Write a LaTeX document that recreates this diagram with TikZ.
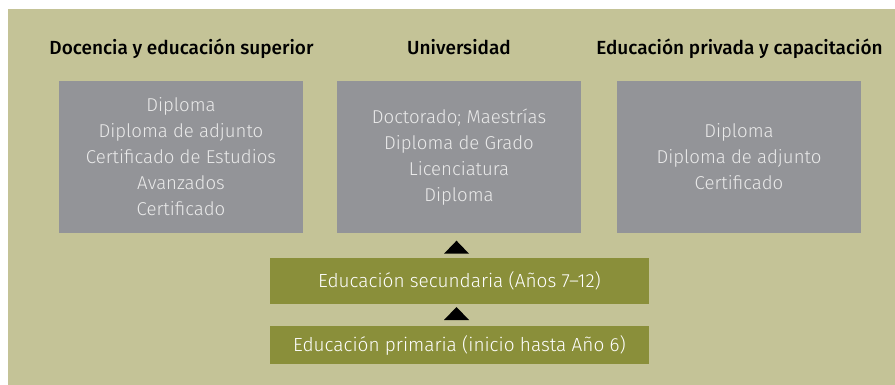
\documentclass[tikz,border=0pt]{standalone}
\usepackage{fontspec}
\setmainfont{Fira Sans}[UprightFont=* Light, BoldFont=* Medium]
\usetikzlibrary{calc}
\definecolor{khaki}{HTML}{C4C397}
\definecolor{boxgray}{HTML}{939498}
\definecolor{olive}{HTML}{8A8F3A}
\definecolor{lighttext}{HTML}{EAEAEA}
\begin{document}
\begin{tikzpicture}[x=1pt,y=-1pt,
 title/.style={font=\bfseries\fontsize{19}{22}\selectfont, text=black, anchor=base, inner sep=0},
 grade/.style={fill=boxgray, minimum width=244, minimum height=152, text=lighttext, align=center, inner sep=0, font=\fontsize{18.6}{26}\selectfont},
 level/.style={fill=olive, minimum width=379, text=white, inner sep=0, text height=13.4, text depth=0, font=\fontsize{19}{22}\selectfont},
 tri/.style={fill=black}]
\useasboundingbox (0,0) rectangle (895,385);
\fill[white] (0,0) rectangle (895,385);
\fill[khaki] (8,9) rectangle (895,385);
% titles
\node[title] (t1) at (181.5,55) {Docencia y educación superior};
\node[title] (t2) at (459,55) {Universidad};
\node[title] (t3) at (739.5,55) {Educación privada y capacitación};
% qualification boxes
\node[grade] (b1) at (181,157) {Diploma\\Diploma de adjunto\\Certificado de Estudios\\Avanzados\\Certificado};
\node[grade] (b2) at (459,157) {Doctorado; Maestrías\\Diploma de Grado\\Licenciatura\\Diploma};
\node[grade] (b3) at (739,157) {Diploma\\Diploma de adjunto\\Certificado};
% school levels
\node[level, minimum height=45.7] (sec) at (459.5,280.85) {Educación secundaria (Años 7–12)};
\node[level, minimum height=38] (pri) at (459.5,345) {Educación primaria (inicio hasta Año 6)};
% arrowheads
\coordinate (a1) at (456.5,240.7);
\coordinate (a2) at (456.5,307);
\fill[tri] (a1) -- ++(-12.5,13) -- ++(25,0) -- cycle;
\fill[tri] (a2) -- ++(-12.5,13) -- ++(25,0) -- cycle;
\end{tikzpicture}
\end{document}
